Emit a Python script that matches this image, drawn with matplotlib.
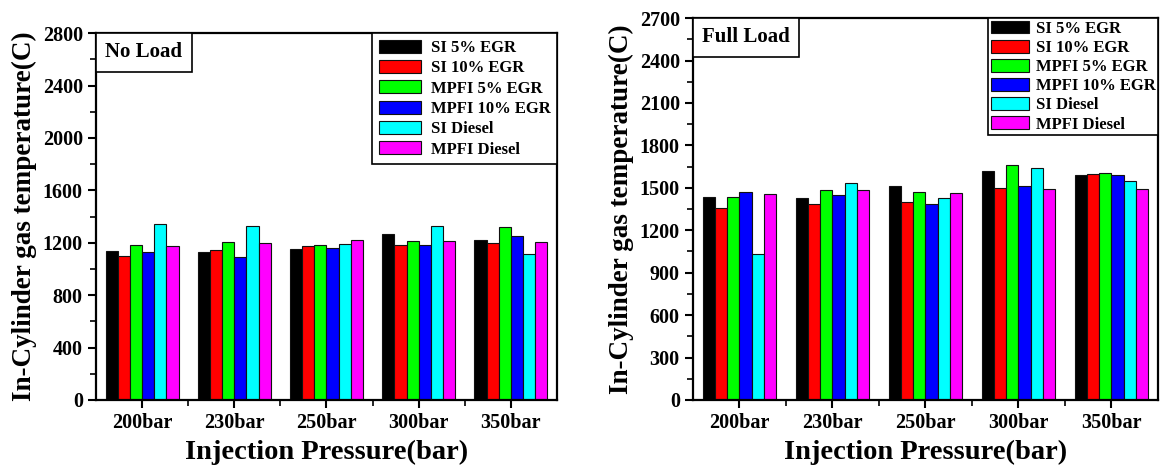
import numpy as np
import matplotlib
matplotlib.use("Agg")
import matplotlib.pyplot as plt
from matplotlib.offsetbox import AnchoredText

plt.rcParams['font.family'] = ['Liberation Serif', 'DejaVu Serif']
plt.rcParams['font.weight'] = 'bold'

pressures = ['200bar', '230bar', '250bar', '300bar', '350bar']
series = ['SI 5% EGR', 'SI 10% EGR', 'MPFI 5% EGR', 'MPFI 10% EGR', 'SI Diesel', 'MPFI Diesel']
colors = ['#000000', '#ff0000', '#00ff00', '#0000ff', '#00ffff', '#ff00ff']

# no load, one list per series (values per injection pressure)
no_si5 = [1139, 1126, 1150, 1267, 1218]
no_si10 = [1101, 1147, 1177, 1180, 1200]
no_mp5 = [1183, 1208, 1183, 1216, 1318]
no_mp10 = [1132, 1089, 1157, 1183, 1249]
no_sid = [1343, 1328, 1188, 1328, 1114]
no_mpd = [1175, 1196, 1221, 1213, 1208]

# full load
fl_si5 = [1438, 1431, 1511, 1617, 1591]
fl_si10 = [1360, 1388, 1402, 1499, 1600]
fl_mp5 = [1433, 1483, 1468, 1662, 1607]
fl_mp10 = [1468, 1452, 1384, 1513, 1589]
fl_sid = [1035, 1532, 1428, 1643, 1546]
fl_mpd = [1457, 1483, 1461, 1490, 1492]

no_load = [no_si5, no_si10, no_mp5, no_mp10, no_sid, no_mpd]
full_load = [fl_si5, fl_si10, fl_mp5, fl_mp10, fl_sid, fl_mpd]

fig = plt.figure(figsize=(11.66, 4.68), dpi=100)
ax1 = fig.add_axes([0.0823, 0.1453, 0.3954, 0.784])
ax2 = fig.add_axes([0.5943, 0.1453, 0.3988, 0.816])

x = np.arange(1, 6)
w = 0.132


def draw(ax, data, ymax, step, title, legopts):
    for i, vals in enumerate(data):
        ax.bar(x + (i - 2.5) * w, vals, w, color=colors[i], edgecolor='#111111',
               linewidth=0.8, label=series[i])
    ax.set_xlim(0.5, 5.5)
    ax.set_ylim(0, ymax)
    ax.set_xticks(x)
    ax.set_xticklabels(pressures, fontsize=14.5, fontweight='bold')
    ax.set_xticks(np.arange(1.5, 5.0, 1), minor=True)
    ax.set_yticks(np.arange(0, ymax + 1, step))
    ax.set_yticks(np.arange(0, ymax + 1, step / 2), minor=True)
    ax.tick_params(axis='y', labelsize=14.5)
    ax.tick_params(which='major', length=6, width=1.5, direction='out')
    ax.tick_params(which='minor', length=4, width=1.2, direction='out')
    for s in ax.spines.values():
        s.set_linewidth(1.6)
    ax.set_xlabel('Injection Pressure(bar)', fontsize=20.5, fontweight='bold', labelpad=5)
    ax.set_ylabel('In-Cylinder gas temperature(C)', fontsize=19.5, fontweight='bold')
    leg = ax.legend(loc='upper right', borderaxespad=0, handleheight=0.8, fancybox=False,
                    edgecolor='black', framealpha=1, **legopts)
    leg.get_frame().set_linewidth(1.2)
    at = AnchoredText(title, loc='upper left', borderpad=0, pad=0.45,
                      prop=dict(size=15, weight='bold'))
    at.patch.set_linewidth(1.2)
    ax.add_artist(at)


draw(ax1, no_load, 2800, 400, 'No Load',
     dict(fontsize=12, handlelength=2.5, labelspacing=0.25, handletextpad=0.6, borderpad=0.4))
draw(ax2, full_load, 2700, 300, 'Full Load',
     dict(fontsize=12, handlelength=2.3, labelspacing=0.18, handletextpad=0.4, borderpad=0.15))

fig.savefig('out.png', dpi=100)
